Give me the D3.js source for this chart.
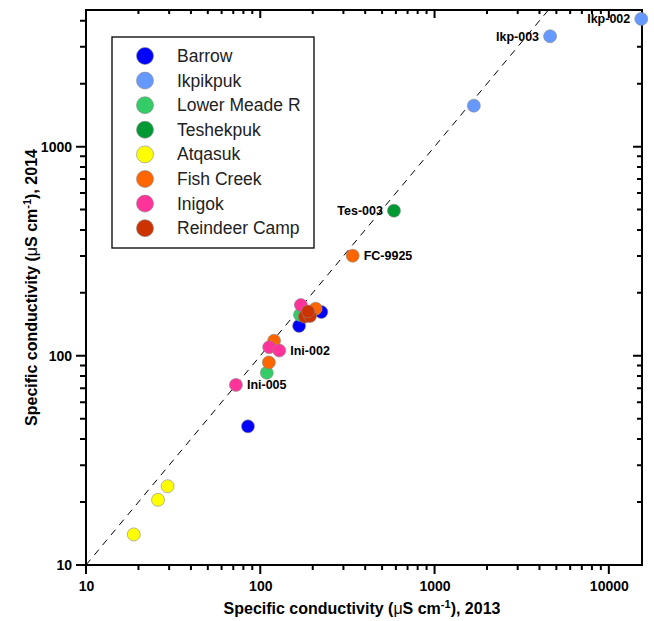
<!DOCTYPE html>
<html>
<head>
<meta charset="utf-8">
<script src="https://cdn.jsdelivr.net/npm/d3@7"></script>
<style>
  body { margin: 0; background: #fff; }
  svg { font-family: Arial, "Liberation Sans", sans-serif; }
</style>
</head>
<body>
<svg id="chart"></svg>
<script>
// series names and colours (legend order)
const seriesNames = ["Barrow", "Ikpikpuk", "Lower Meade R", "Teshekpuk", "Atqasuk", "Fish Creek", "Inigok", "Reindeer Camp"];
const seriesColors = ["#0000ff", "#6699ff", "#33cc66", "#009933", "#ffff00", "#ff6600", "#ff3399", "#cc3300"];

// conductivity 2013 (x) and 2014 (y) per series
const barrow2013 = [224, 167, 85];
const barrow2014 = [162, 139, 46];
const ikpikpuk2013 = [15350, 4600, 1680];
const ikpikpuk2014 = [4080, 3370, 1570];
const meade2013 = [169, 109];
const meade2014 = [157, 83];
const teshekpuk2013 = [585];
const teshekpuk2014 = [494];
const atqasuk2013 = [29.4, 25.9, 18.8];
const atqasuk2014 = [23.8, 20.5, 14.0];
const fishcreek2013 = [339, 208, 120, 112];
const fishcreek2014 = [301, 168, 118, 93];
const inigok2013 = [171, 112.6, 128.5, 72.5];
const inigok2014 = [175, 110, 106, 72.6];
const reindeer2013 = [180, 193, 188];
const reindeer2014 = [154, 155, 163];

const xValues = [barrow2013, ikpikpuk2013, meade2013, teshekpuk2013, atqasuk2013, fishcreek2013, inigok2013, reindeer2013];
const yValues = [barrow2014, ikpikpuk2014, meade2014, teshekpuk2014, atqasuk2014, fishcreek2014, inigok2014, reindeer2014];

// site labels: series index, point index, text, side
const siteLabels = [
  { s: 1, i: 0, text: "Ikp-002", side: "left" },
  { s: 1, i: 1, text: "Ikp-003", side: "left" },
  { s: 3, i: 0, text: "Tes-003", side: "left" },
  { s: 5, i: 0, text: "FC-9925", side: "right" },
  { s: 6, i: 2, text: "Ini-002", side: "right" },
  { s: 6, i: 3, text: "Ini-005", side: "right" }
];

const xTicks = [10, 100, 1000, 10000];
const yTicks = [10, 100, 1000];

const dims = { width: 654, height: 621, left: 86, right: 642, top: 10, bottom: 565 };

const svg = d3.select("#chart")
  .attr("width", dims.width)
  .attr("height", dims.height);

const xScale = d3.scaleLog().domain([10, 15500]).range([dims.left, dims.right]);
const yScale = d3.scaleLog().domain([10, 4500]).range([dims.bottom, dims.top]);

// 2..9 of each decade inside the domain
function minorTicks(scale) {
  const [lo, hi] = scale.domain();
  const out = [];
  for (let d = 10; d < hi; d *= 10) {
    for (let k = 2; k < 10; k++) {
      if (d * k >= lo && d * k <= hi) out.push(d * k);
    }
  }
  return out;
}
const xMinor = minorTicks(xScale);
const yMinor = minorTicks(yScale);
const w = dims.right - dims.left, h = dims.bottom - dims.top;

// tick marks as one path per side (x ticks: from y0 by len, y ticks: from x0 by len)
function xTickPath(values, y0, len) {
  return values.map(v => `M${xScale(v)},${y0}v${len}`).join("");
}
function yTickPath(values, x0, len) {
  return values.map(v => `M${x0},${yScale(v)}h${len}`).join("");
}
const tickPaths = [
  xTickPath(xMinor, dims.bottom, 5), xTickPath(xTicks, dims.bottom, 9),
  xTickPath(xMinor, dims.top, 4), xTickPath(xTicks, dims.top, 8),
  yTickPath(yMinor, dims.left, -6), yTickPath(yTicks, dims.left, -10),
  yTickPath(yMinor, dims.right, -5), yTickPath(yTicks, dims.right, -9)
];
svg.append("g").selectAll("path").data(tickPaths).join("path")
  .attr("d", d => d)
  .attr("fill", "none")
  .attr("stroke", "#000")
  .attr("stroke-width", 2);

// tick labels through d3 axes (tick lines drawn above)
const xAxis = svg.append("g").attr("transform", `translate(0,${dims.bottom})`)
  .call(d3.axisBottom(xScale).tickValues(xTicks).tickSize(9).tickPadding(7).tickFormat(d => d));
const yAxis = svg.append("g").attr("transform", `translate(${dims.left},0)`)
  .call(d3.axisLeft(yScale).tickValues(yTicks).tickSize(10).tickPadding(4).tickFormat(d => d));
[xAxis, yAxis].forEach(g => {
  g.select(".domain").remove();
  g.selectAll(".tick line").remove();
  g.attr("font-family", null);
  g.selectAll("text").attr("font-size", 14).attr("font-weight", "bold").attr("fill", "#000");
});

// frame
svg.append("rect")
  .attr("x", dims.left).attr("y", dims.top)
  .attr("width", w).attr("height", h)
  .attr("fill", "none").attr("stroke", "#000").attr("stroke-width", 2);

// axis titles
function axisTitle(g, year) {
  g.attr("font-size", 16).attr("font-weight", "bold").attr("text-anchor", "middle");
  g.append("tspan").text("Specific conductivity (");
  g.append("tspan").attr("font-weight", "normal").text("\u03bc");
  g.append("tspan").text("S cm");
  g.append("tspan").attr("font-size", 11).attr("dy", -6).text("-1");
  g.append("tspan").attr("dy", 6).text("), " + year);
}
axisTitle(svg.append("text").attr("x", (dims.left + dims.right) / 2 - 2).attr("y", 614), "2013");
axisTitle(svg.append("text")
  .attr("transform", `translate(37, ${(dims.top + dims.bottom) / 2}) rotate(-90)`), "2014");

// 1:1 line
svg.append("defs").append("clipPath").attr("id", "plotClip")
  .append("rect").attr("x", dims.left).attr("y", dims.top).attr("width", w).attr("height", h);

svg.append("line")
  .attr("clip-path", "url(#plotClip)")
  .attr("x1", xScale(10)).attr("y1", yScale(10))
  .attr("x2", xScale(4500)).attr("y2", yScale(4500))
  .attr("stroke", "#000").attr("stroke-width", 1).attr("stroke-dasharray", "7,6");

// points
const points = [];
seriesNames.forEach((name, s) => {
  xValues[s].forEach((xv, i) => points.push({ s, x: xv, y: yValues[s][i] }));
});
svg.append("g").selectAll("circle").data(points).join("circle")
  .attr("cx", d => xScale(d.x)).attr("cy", d => yScale(d.y))
  .attr("r", 6.5)
  .attr("fill", d => seriesColors[d.s])
  .attr("stroke", "#888").attr("stroke-width", 0.6);

// point labels
svg.append("g").selectAll("text").data(siteLabels).join("text")
  .attr("x", d => xScale(xValues[d.s][d.i]) + (d.side === "right" ? 11 : -11))
  .attr("y", d => yScale(yValues[d.s][d.i]) + 4.5)
  .attr("text-anchor", d => d.side === "right" ? "start" : "end")
  .attr("font-size", 12.5).attr("font-weight", "bold")
  .text(d => d.text);

// legend
const legend = svg.append("g");
legend.append("rect")
  .attr("x", 112).attr("y", 37).attr("width", 202).attr("height", 211)
  .attr("fill", "#fff").attr("stroke", "#000").attr("stroke-width", 1.3);
const items = legend.selectAll("g.item").data(seriesNames).join("g")
  .attr("class", "item")
  .attr("transform", (d, i) => `translate(145, ${56 + i * 24.6})`);
items.append("circle")
  .attr("r", 8.5)
  .attr("fill", (d, i) => seriesColors[i])
  .attr("stroke", "#888").attr("stroke-width", 0.6);
items.append("text")
  .attr("x", 32).attr("y", 6)
  .attr("font-size", 17.5)
  .attr("fill", "#222")
  .text(d => d);
</script>
</body>
</html>
